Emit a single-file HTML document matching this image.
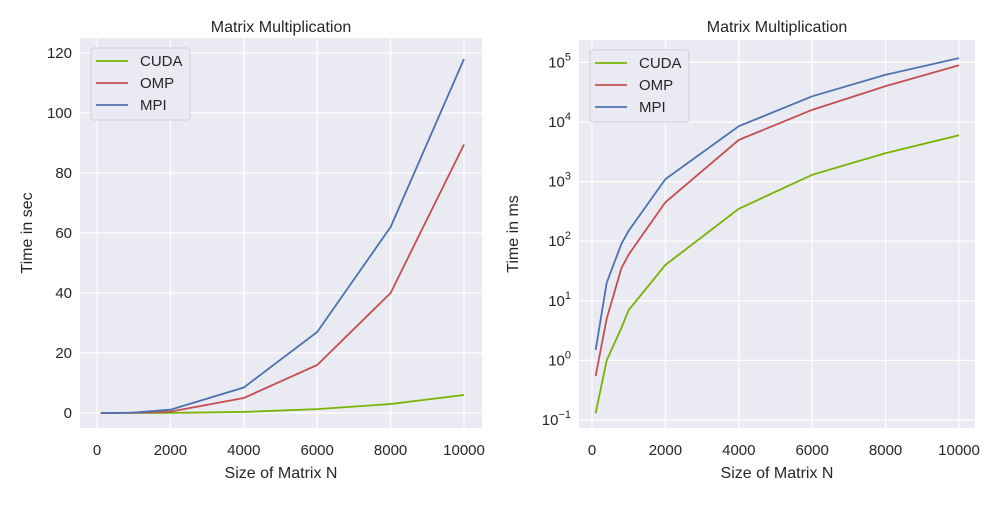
<!DOCTYPE html>
<html><head><meta charset="utf-8"><style>
body{margin:0;background:#fff;font-family:"Liberation Sans","DejaVu Sans",sans-serif}
</style></head><body>
<svg id="c" width="1000" height="500" xmlns="http://www.w3.org/2000/svg"></svg>
<script>
const sizes=[100,400,800,1000,2000,4000,6000,8000,10000];
const cudaMs=[0.13,1.0,3.5,7,40,350,1300,3000,6000];
const ompMs=[0.55,5,35,60,450,5000,16000,40000,89500];
const mpiMs=[1.5,20,90,150,1100,8500,27000,62000,118000];
const seriesNames=['CUDA','OMP','MPI'];
const xTicks=[0,2000,4000,6000,8000,10000];
const yTicksLin=[0,20,40,60,80,100,120];
const yTicksLogExp=[-1,0,1,2,3,4,5];
const colors=['#77b300','#c44e52','#4c72b0'];
const svg=document.getElementById('c');
const NS='http://www.w3.org/2000/svg';
function mk(tag,attrs,parent){const e=document.createElementNS(NS,tag);for(const k in attrs)e.setAttribute(k,attrs[k]);(parent||svg).appendChild(e);return e;}
function panel(cfg){
  const g=mk('g',{});
  
  
  const bg=mk('rect',{x:cfg.L,y:cfg.T,width:cfg.R-cfg.L,height:cfg.B-cfg.T,fill:'#eaeaf2'},g);
  
  
  const xs=v=>cfg.x0+(v/10000)*(cfg.x1-cfg.x0);
  const ys=cfg.ys;
  xTicks.forEach(t=>{
    mk('line',{x1:xs(t),x2:xs(t),y1:cfg.T,y2:cfg.B,stroke:'#fff','stroke-width':1.2},g);
    const tx=mk('text',{x:xs(t),y:cfg.B+27,'text-anchor':'middle','font-size':15,fill:'#262626'},g);
    tx.textContent=t;
    
    
  });
  cfg.yt.forEach(t=>{
    const y=ys(t.v);
    mk('line',{x1:cfg.L,x2:cfg.R,y1:y,y2:y,stroke:'#fff','stroke-width':1.2},g);
    const tx=mk('text',{x:cfg.L-8,y:y+5,'text-anchor':'end','font-size':15,fill:'#262626'},g);
    tx.innerHTML=t.label;
    
    
  });
  cfg.data.forEach((arr,i)=>{
    const p=mk('polyline',{points:arr.map((v,j)=>xs(sizes[j])+','+ys(cfg.tf(v))).join(' '),fill:'none',stroke:colors[i],'stroke-width':1.8},g);
    
    
  });
  const t=mk('text',{x:(cfg.L+cfg.R)/2,y:32,'text-anchor':'middle','font-size':16,fill:'#262626'},g);
  t.textContent='Matrix Multiplication';
  
  
  const xl=mk('text',{x:(cfg.L+cfg.R)/2,y:cfg.B+50,'text-anchor':'middle','font-size':16,fill:'#262626'},g);
  xl.textContent='Size of Matrix N';
  
  
  const yl=mk('text',{x:cfg.ylx,y:(cfg.T+cfg.B)/2,'text-anchor':'middle','font-size':16,fill:'#262626',transform:`rotate(-90 ${cfg.ylx} ${(cfg.T+cfg.B)/2})`},g);
  yl.textContent=cfg.ylabel;
  
  
  const lg=mk('g',{},g);
  
  
  mk('rect',{x:cfg.L+11,y:cfg.T+10,width:99,height:72,rx:3,fill:'#eaeaf2',stroke:'#cfcfd6'},lg);
  seriesNames.forEach((n,i)=>{
    const y=cfg.T+23+i*22;
    mk('line',{x1:cfg.L+16,x2:cfg.L+48,y1:y,y2:y,stroke:colors[i],'stroke-width':1.8},lg);
    const tx=mk('text',{x:cfg.L+60,y:y+5,'font-size':15,fill:'#262626'},lg);
    tx.textContent=n;
    
    
  });
}
panel({name:'linear-panel',L:80,R:482,T:38,B:428,x0:97,x1:464,
  ys:v=>413-v*3,tf:v=>v/1000,yt:yTicksLin.map(v=>({v,label:v})),
  data:[cudaMs,ompMs,mpiMs],ylabel:'Time in sec',ylx:32});
panel({name:'log-panel',L:579,R:975,T:40,B:428,x0:592,x1:959,
  ys:e=>420-(e+1)*59.6,tf:v=>Math.log10(v),
  yt:yTicksLogExp.map(v=>({v,label:`10<tspan dy="-7" font-size="11">${v<0?'−'+(-v):v}</tspan>`})),
  data:[cudaMs,ompMs,mpiMs],ylabel:'Time in ms',ylx:518});
</script>
</body></html>
